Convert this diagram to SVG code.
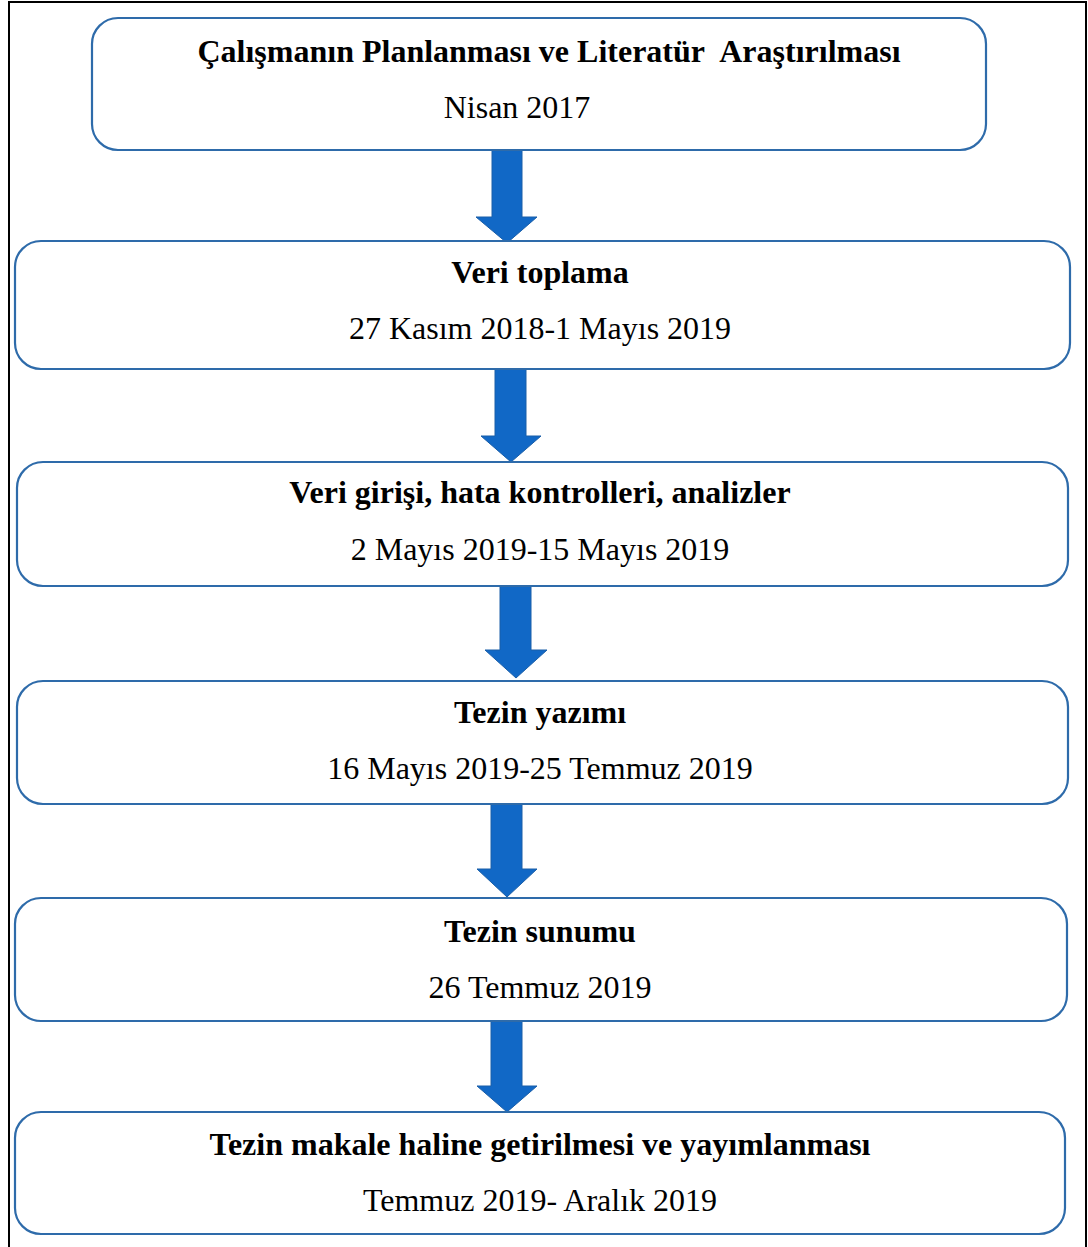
<svg xmlns="http://www.w3.org/2000/svg" width="1088" height="1247" viewBox="0 0 1088 1247">
<style>
.box{fill:#ffffff;stroke:#2E6BAA;stroke-width:2.2}
.t{font-family:"Liberation Serif","Times New Roman",serif;font-size:32px;fill:#000;text-anchor:middle}
.b{font-weight:bold}
.arr{fill:#1168C6;stroke:#1A5EA8;stroke-width:1}
</style>
<rect x="0" y="0" width="1088" height="1247" fill="#ffffff"/>
<rect x="9" y="2" width="1077" height="1260" fill="none" stroke="#000" stroke-width="2"/>
<g id="connectors">
<polygon class="arr" points="492,150 522,150 522,217 537,217 507,243 476,217 492,217"/>
<polygon class="arr" points="495,368 526,368 526,436 541,436 511,462 481,436 495,436"/>
<polygon class="arr" points="500,586 531,586 531,650 547,650 516,678 485,650 500,650"/>
<polygon class="arr" points="491,804 522,804 522,869 537,869 507,897 477,869 491,869"/>
<polygon class="arr" points="491,1021 522,1021 522,1086 537,1086 507,1112 477,1086 491,1086"/>
</g>
<g id="node1">
<rect class="box" x="92" y="18" width="894" height="132" rx="26"/>
<text class="t b" x="549" y="62">Çalışmanın Planlanması ve Literatür&#160; Araştırılması</text>
<text class="t" x="517" y="118">Nisan 2017</text>
</g>
<g id="node2">
<rect class="box" x="15" y="241" width="1055" height="128" rx="26"/>
<text class="t b" x="540" y="283">Veri toplama</text>
<text class="t" x="540" y="339">27 Kasım 2018-1 Mayıs 2019</text>
</g>
<g id="node3">
<rect class="box" x="17" y="462" width="1051" height="124" rx="26"/>
<text class="t b" x="540" y="503">Veri girişi, hata kontrolleri, analizler</text>
<text class="t" x="540" y="560">2 Mayıs 2019-15 Mayıs 2019</text>
</g>
<g id="node4">
<rect class="box" x="17" y="681" width="1051" height="123" rx="26"/>
<text class="t b" x="540" y="723">Tezin yazımı</text>
<text class="t" x="540" y="779">16 Mayıs 2019-25 Temmuz 2019</text>
</g>
<g id="node5">
<rect class="box" x="15" y="898" width="1052" height="123" rx="26"/>
<text class="t b" x="540" y="942">Tezin sunumu</text>
<text class="t" x="540" y="998">26 Temmuz 2019</text>
</g>
<g id="node6">
<rect class="box" x="15" y="1112" width="1050" height="122" rx="26"/>
<text class="t b" x="540" y="1155">Tezin makale haline getirilmesi ve yayımlanması</text>
<text class="t" x="540" y="1211">Temmuz 2019- Aralık 2019</text>
</g>
</svg>
